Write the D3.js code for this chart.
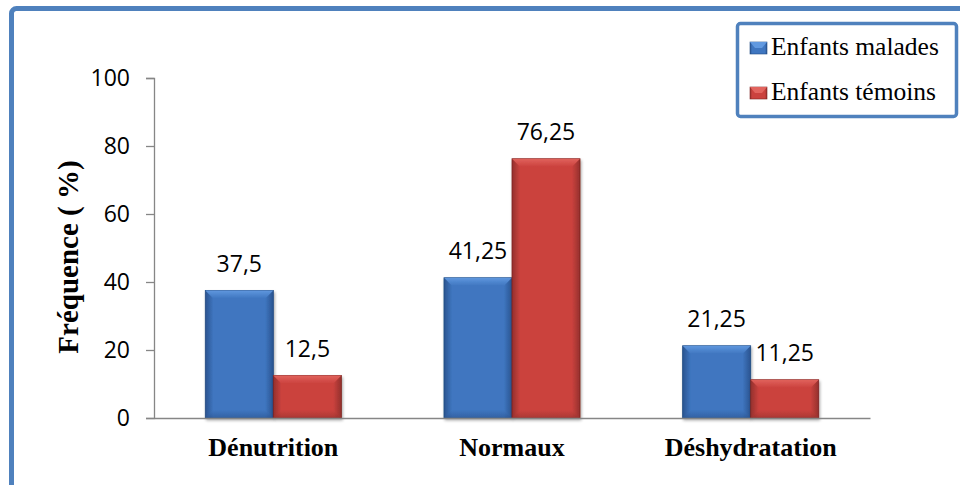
<!DOCTYPE html>
<html>
<head>
<meta charset="utf-8">
<script src="https://cdn.jsdelivr.net/npm/d3@7"></script>
<style>
  html, body { margin: 0; padding: 0; background: #fff; }
  svg { display: block; }
</style>
</head>
<body>
<svg id="chart" width="960" height="485"></svg>
<script>
// Categories, series and tick labels
const categories = ["Dénutrition", "Normaux", "Déshydratation"];
const seriesNames = ["Enfants malades", "Enfants témoins"];
const malades = [37.5, 41.25, 21.25];
const temoins = [12.5, 76.25, 11.25];
const yTicks = [0, 20, 40, 60, 80, 100];
const yTitle = "Fréquence ( %)";

const svg = d3.select("#chart");
const sansFont = "'Open Sans', 'Liberation Sans', sans-serif";
const serifFont = "'Liberation Serif', 'Times New Roman', serif";

// Outer frame (only its top and left edges fall inside the view)
svg.append("rect")
  .attr("x", 11.5).attr("y", 8.5)
  .attr("width", 1200).attr("height", 800)
  .attr("rx", 5)
  .attr("fill", "#fff")
  .attr("stroke", "#4f81bd").attr("stroke-width", 5);

const plot = { left: 154, right: 870, top: 78, bottom: 418 };

const x0 = d3.scaleBand().domain(categories).range([plot.left, plot.right]).paddingInner(0.43).paddingOuter(0.215);
const x1 = d3.scaleBand().domain(seriesNames).range([0, x0.bandwidth()]);
const y = d3.scaleLinear().domain([0, 100]).range([plot.bottom, plot.top]);

const palette = {
  "Enfants malades": { base: "#3f76c0", light: "#6199e0", dark: "#2a5490", edge: "#1f4a82" },
  "Enfants témoins": { base: "#cb423e", light: "#e2645e", dark: "#94302d", edge: "#7e2421" }
};

const defs = svg.append("defs");
seriesNames.forEach((s, i) => {
  const c = palette[s];
  const g = defs.append("linearGradient").attr("id", "g" + i).attr("x1", 0).attr("x2", 1).attr("y1", 0).attr("y2", 0);
  g.append("stop").attr("offset", "0%").attr("stop-color", c.dark);
  g.append("stop").attr("offset", "12%").attr("stop-color", c.base);
  g.append("stop").attr("offset", "88%").attr("stop-color", c.base);
  g.append("stop").attr("offset", "100%").attr("stop-color", c.dark);
  const gt = defs.append("linearGradient").attr("id", "gt" + i).attr("x1", 0).attr("x2", 0).attr("y1", 0).attr("y2", 1);
  gt.append("stop").attr("offset", "0%").attr("stop-color", c.light);
  gt.append("stop").attr("offset", "100%").attr("stop-color", c.base);
  const gb = defs.append("linearGradient").attr("id", "gb" + i).attr("x1", 0).attr("x2", 0).attr("y1", 0).attr("y2", 1);
  gb.append("stop").attr("offset", "0%").attr("stop-color", c.base);
  gb.append("stop").attr("offset", "100%").attr("stop-color", c.dark);
});
const shadow = defs.append("filter").attr("id", "shadow").attr("x", "-20%").attr("y", "-20%").attr("width", "140%").attr("height", "140%");
shadow.append("feGaussianBlur").attr("in", "SourceAlpha").attr("stdDeviation", 1.5);
shadow.append("feOffset").attr("dx", 1).attr("dy", 2).attr("result", "o");
shadow.append("feComponentTransfer").append("feFuncA").attr("type", "linear").attr("slope", 0.35);
const fm = shadow.append("feMerge");
fm.append("feMergeNode");
fm.append("feMergeNode").attr("in", "SourceGraphic");

// Y axis
const yAxis = d3.axisLeft(y).tickValues(yTicks).tickSize(8).tickPadding(16).tickFormat(d3.format("d"));
const gy = svg.append("g").attr("transform", `translate(${plot.left},0)`).call(yAxis);
gy.select(".domain").attr("stroke", "#868686").attr("stroke-width", 1.3);
gy.selectAll(".tick line").attr("stroke", "#868686").attr("stroke-width", 1.3);
gy.selectAll(".tick text")
  .attr("font-family", sansFont)
  .attr("font-size", 23).attr("fill", "#000");

// Bars
const rows = categories.map((c, i) => ({ cat: c, vals: [malades[i], temoins[i]] }));
const groups = svg.append("g").selectAll("g").data(rows).join("g")
  .attr("transform", d => `translate(${x0(d.cat)},0)`);

groups.each(function(d) {
  const g = d3.select(this);
  d.vals.forEach((v, i) => {
    const s = seriesNames[i];
    const bx = x1(s), bw = x1.bandwidth();
    const top = y(v), bot = y(0);
    const bev = Math.min(8, (bot - top) / 2);
    const bar = g.append("g").attr("filter", "url(#shadow)");
    bar.append("rect").attr("x", bx).attr("y", top).attr("width", bw).attr("height", bot - top)
      .attr("fill", `url(#g${i})`).attr("stroke", palette[s].edge).attr("stroke-width", 0.8);
    // top bevel
    bar.append("path")
      .attr("d", `M${bx},${top}L${bx + bw},${top}L${bx + bw - bev},${top + bev}L${bx + bev},${top + bev}Z`)
      .attr("fill", `url(#gt${i})`).attr("opacity", 0.95);
    // bottom bevel
    bar.append("path")
      .attr("d", `M${bx},${bot}L${bx + bw},${bot}L${bx + bw - bev},${bot - bev}L${bx + bev},${bot - bev}Z`)
      .attr("fill", `url(#gb${i})`).attr("opacity", 0.6);
    // value label
    g.append("text")
      .attr("x", bx + bw / 2).attr("y", top - 19)
      .attr("text-anchor", "middle")
      .attr("font-family", sansFont)
      .attr("font-size", 23).attr("fill", "#000")
      .text(String(v).replace(".", ","));
  });
});

// X axis
const xAxis = d3.axisBottom(x0).tickSize(0).tickPadding(20);
const gx = svg.append("g").attr("transform", `translate(0,${plot.bottom})`).call(xAxis);
gx.select(".domain").attr("stroke", "#868686").attr("stroke-width", 1.5);
gx.selectAll(".tick text")
  .attr("font-family", serifFont)
  .attr("font-weight", "bold").attr("font-size", 26).attr("fill", "#000");

// Y axis title
svg.append("text")
  .attr("transform", `translate(78,${(plot.top + plot.bottom) / 2 + 9}) rotate(-90)`)
  .attr("text-anchor", "middle")
  .attr("font-family", serifFont)
  .attr("font-weight", "bold").attr("font-size", 29).attr("fill", "#000")
  .text(yTitle);

// Legend
const lg = svg.append("g");
lg.append("rect").attr("x", 737.5).attr("y", 23.5).attr("width", 219).attr("height", 93)
  .attr("rx", 3).attr("fill", "#fff").attr("stroke", "#4f81bd").attr("stroke-width", 3.5);
seriesNames.forEach((s, i) => {
  const base = 55 + i * 45;
  lg.append("rect").attr("x", 750).attr("y", base - 13).attr("width", 17).attr("height", 12)
    .attr("fill", `url(#g${i})`).attr("stroke", palette[s].edge).attr("stroke-width", 0.6);
  lg.append("path").attr("d", `M750,${base - 13}L767,${base - 13}L762,${base - 7}L755,${base - 7}Z`)
    .attr("fill", palette[s].light);
  lg.append("text").attr("x", 771).attr("y", base)
    .attr("font-family", serifFont)
    .attr("font-size", 25.5).attr("fill", "#000")
    .text(s);
});
</script>
</body>
</html>
